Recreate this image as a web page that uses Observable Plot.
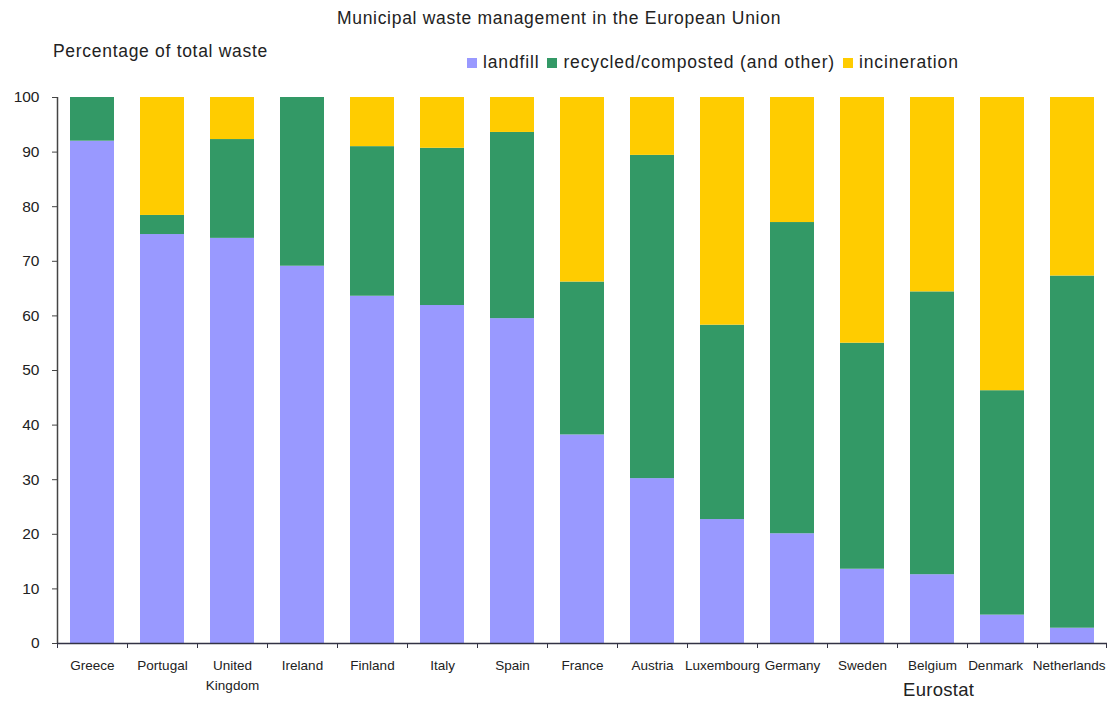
<!DOCTYPE html>
<html>
<head>
<meta charset="utf-8">
<script src="https://cdn.jsdelivr.net/npm/d3@7"></script>
<script src="https://cdn.jsdelivr.net/npm/@observablehq/plot@0.6"></script>
<style>
  html, body { margin: 0; padding: 0; background: #fff; }
  #wrap { position: relative; width: 1107px; height: 725px; font-family: "Liberation Sans", Arial, sans-serif; color: #222; overflow: hidden; }
  #chart { position: absolute; left: 0; top: 0; }
  .lbl { position: absolute; white-space: nowrap; }
  #title { left: 0; width: 1118px; text-align: center; top: 8px; font-size: 17.5px; letter-spacing: 0.7px; }
  #ylab { left: 53px; top: 41px; font-size: 17.5px; letter-spacing: 0.7px; }
  #legend { left: 467px; top: 52px; font-size: 17.5px; letter-spacing: 0.85px; display: flex; align-items: center; }
  #legend .sw { display: inline-block; width: 10px; height: 10px; margin-right: 6px; }
  #legend .it { display: inline-flex; align-items: center; margin-right: 8px; }
  #source { left: 903px; top: 679px; font-size: 18.5px; letter-spacing: 0.3px; }
</style>
</head>
<body>
<div id="wrap">
  <div id="chart"></div>
  <div class="lbl" id="title"></div>
  <div class="lbl" id="ylab"></div>
  <div class="lbl" id="legend"></div>
  <div class="lbl" id="source"></div>
</div>
<script>
// ---- data ----
const titleText = "Municipal waste management in the European Union";
const yLabel = "Percentage of total waste";
const sourceText = "Eurostat";
const countries = ["Greece","Portugal","United\nKingdom","Ireland","Finland","Italy","Spain","France","Austria","Luxembourg","Germany","Sweden","Belgium","Denmark","Netherlands"];
const seriesNames = ["landfill","recycled/composted (and other)","incineration"];
const seriesColors = ["#9999ff","#339966","#ffcc00"];
const landfill     = [92.0, 74.9, 74.2, 69.1, 63.6, 61.9, 59.5, 38.2, 30.2, 22.7, 20.1, 13.6, 12.6, 5.2, 2.8];
const recycled     = [8.0, 3.5, 18.1, 30.9, 27.4, 28.8, 34.1, 28.0, 59.2, 35.6, 57.0, 41.4, 51.8, 41.1, 64.5];
const incineration = [0.0, 21.6, 7.7, 0.0, 9.0, 9.3, 6.4, 33.8, 10.6, 41.7, 22.9, 45.0, 35.6, 53.7, 32.7];
const yTicks = [0,10,20,30,40,50,60,70,80,90,100];

// ---- table ----
const seriesValues = [landfill, recycled, incineration];
const rows = [];
seriesNames.forEach((s, si) => {
  countries.forEach((c, ci) => rows.push({country: c, type: s, value: seriesValues[si][ci]}));
});

// ---- layout ----
const W = 1107, H = 725, mL = 57, mR = 0, mT = 97, mB = 82;
const step = (W - mL - mR) / countries.length;
const n = countries.length;
const lastCountry = countries[n - 1];
const axisOpts = {tickSize: 0, tickPadding: 12, fontSize: 13.5, lineHeight: 1.5, label: null};

const plot = Plot.plot({
  width: W, height: H,
  marginLeft: mL, marginRight: mR, marginTop: mT, marginBottom: mB,
  style: {fontFamily: "'Liberation Sans', Arial, sans-serif", fontSize: "14px", color: "#222", background: "transparent"},
  x: {domain: countries, paddingInner: 0.37, paddingOuter: 0.185, label: null},
  y: {domain: [0, 100], label: null},
  color: {domain: seriesNames, range: seriesColors},
  marks: [
    Plot.barY(rows, Plot.stackY({x: "country", y: "value", fill: "type", order: null})),
    Plot.axisY({ticks: yTicks, tickSize: 5, tickPadding: 13, fontSize: 15.5, stroke: "#444", label: null}),
    Plot.axisX({...axisOpts, ticks: countries.slice(0, n - 2)}),
    Plot.axisX({...axisOpts, ticks: [countries[n - 2]], dx: -7}),
    Plot.axisX({...axisOpts, ticks: [lastCountry], textAnchor: "end", dx: step / 2 - 2}),
    // y axis line
    Plot.ruleX([countries[0]], {x: d => d, dx: -step / 2, y1: 0, y2: 100, stroke: "#444", strokeWidth: 1.5}),
    // x axis line
    Plot.ruleY([0], {stroke: "#334", strokeWidth: 1.5}),
    // category boundary ticks
    Plot.ruleX(countries, {x: d => d, dx: -step / 2, y1: 0, y2: 0, insetBottom: -5, stroke: "#334"}),
    Plot.ruleX([lastCountry], {x: d => d, dx: step / 2 - 1, y1: 0, y2: 0, insetBottom: -5, stroke: "#334"})
  ]
});
document.getElementById("chart").appendChild(plot);

document.getElementById("title").textContent = titleText;
document.getElementById("ylab").textContent = yLabel;
document.getElementById("source").textContent = sourceText;
const leg = document.getElementById("legend");
seriesNames.forEach((s, i) => {
  const it = document.createElement("span");
  it.className = "it";
  const sw = document.createElement("span");
  sw.className = "sw";
  sw.style.background = seriesColors[i];
  const t = document.createElement("span");
  t.textContent = s;
  it.appendChild(sw); it.appendChild(t);
  leg.appendChild(it);
});
</script>
</body>
</html>
